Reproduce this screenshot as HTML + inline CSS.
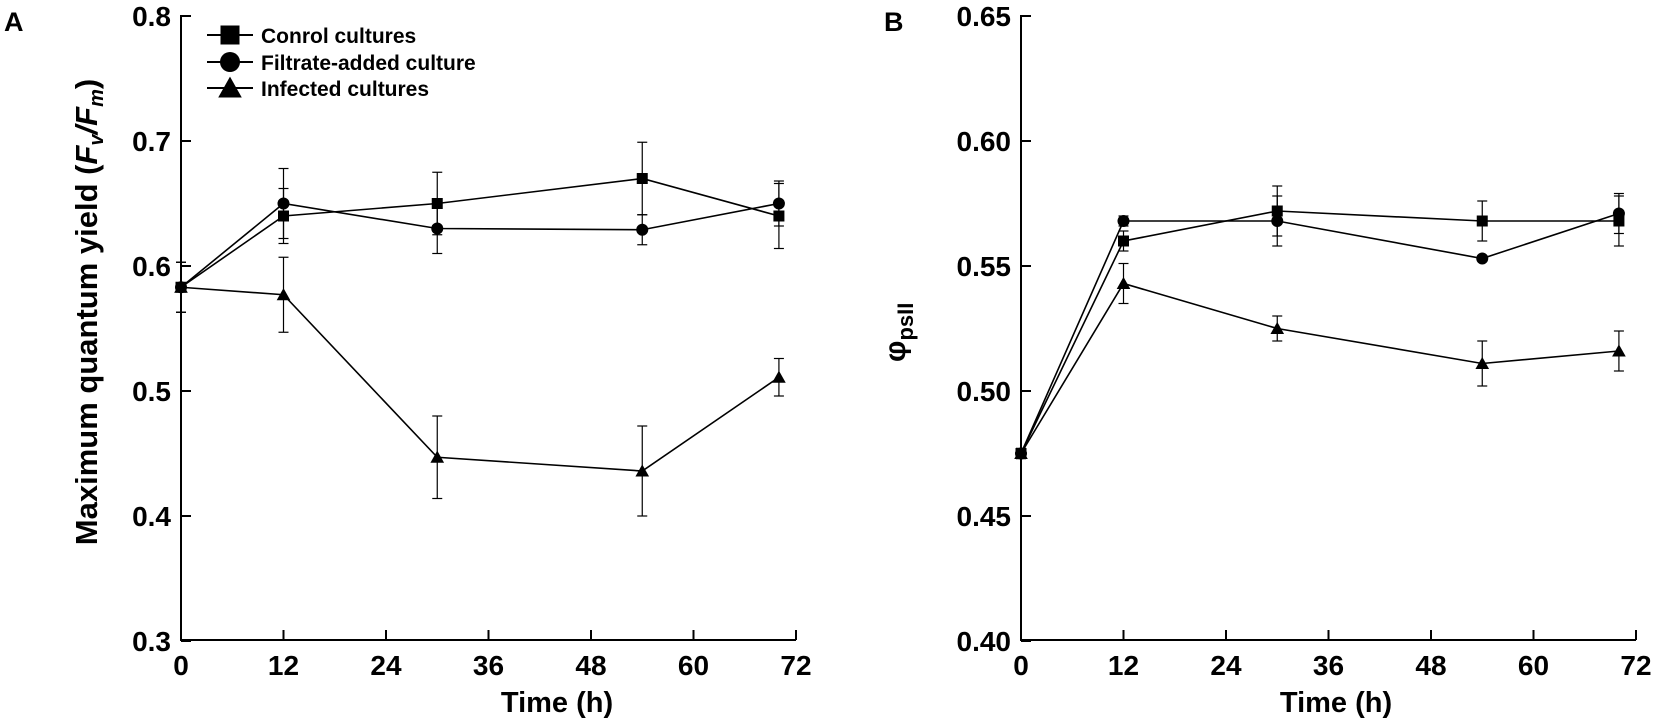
<!DOCTYPE html>
<html><head><meta charset="utf-8"><style>
html,body{margin:0;padding:0;background:#fff;}
svg{display:block;font-family:"Liberation Sans",Arial,sans-serif;font-weight:bold;}
</style></head><body>
<svg id="s" width="1655" height="722" viewBox="0 0 1655 722" xmlns="http://www.w3.org/2000/svg">
<text x="4" y="31" font-size="27">A</text>
<text x="884" y="31" font-size="27">B</text>
<text transform="translate(97,312) rotate(-90)" font-size="31" text-anchor="middle">Maximum quantum yield (<tspan font-style="italic">F</tspan><tspan font-style="italic" font-size="20" dy="6">v</tspan><tspan dy="-6" font-style="italic">/F</tspan><tspan font-style="italic" font-size="20" dy="6">m</tspan><tspan dy="-6">)</tspan></text>
<text transform="translate(905,362) rotate(-90)" font-size="30">φ<tspan font-size="22" dy="8">psII</tspan></text>
<text x="557" y="712" font-size="29" text-anchor="middle">Time (h)</text>
<text x="1336" y="712" font-size="29" text-anchor="middle">Time (h)</text>
<g id="g"></g>
</svg>
<script>
const g=document.getElementById('g');let h='';
function L(x1,y1,x2,y2,w){h+=`<line x1="${x1}" y1="${y1}" x2="${x2}" y2="${y2}" stroke="#000" stroke-width="${w||2}"/>`;}
function T(x,y,t,a,fs){h+=`<text x="${x}" y="${y}" font-size="${fs||28}" text-anchor="${a}">${t}</text>`;}
function M(type,x,y,s){
 if(type==0)h+=`<rect x="${x-s/2}" y="${y-s/2}" width="${s}" height="${s}" fill="#000"/>`;
 else if(type==1)h+=`<circle cx="${x}" cy="${y}" r="${s/2+0.5}" fill="#000"/>`;
 else h+=`<polygon points="${x},${y-s*0.6} ${x-s*0.62},${y+s*0.5} ${x+s*0.62},${y+s*0.5}" fill="#000"/>`;
}
const hrs=[0,12,30,54,70];
function panel(x0,ymin,ymax,step,dec,ticks,data){
 const Y=v=>16+(ymax-v)/(ymax-ymin)*625, X=t=>x0+t*102.5/12;
 L(x0,15,x0,641);L(x0-1,640,x0+615,640);
 for(let i=0;i<ticks;i++){const v=ymin+i*step,y=Y(v);L(x0,y,x0+10,y);T(x0-10,y+10,v.toFixed(dec),'end');}
 for(let t=0;t<=72;t+=12){const x=X(t);if(t>0)L(x,640,x,630);T(x,675,t,'middle');}
 data.forEach((d,k)=>{
  let pts=hrs.map((t,i)=>X(t)+','+Y(d.v[i])).join(' ');
  h+=`<polyline points="${pts}" fill="none" stroke="#000" stroke-width="1.6"/>`;
  hrs.forEach((t,i)=>{const e=d.e[i];if(e>0){const x=X(t);L(x,Y(d.v[i]-e),x,Y(d.v[i]+e),1.2);L(x-5,Y(d.v[i]+e),x+5,Y(d.v[i]+e),1.2);L(x-5,Y(d.v[i]-e),x+5,Y(d.v[i]-e),1.2);}});
  hrs.forEach((t,i)=>M(k,X(t),Y(d.v[i]),11));
 });
}
panel(181,0.3,0.8,0.1,1,6,[
 {v:[0.583,0.64,0.65,0.67,0.64],e:[0.02,0.022,0.025,0.029,0.026]},
 {v:[0.583,0.65,0.63,0.629,0.65],e:[0.02,0.028,0.02,0.012,0.018]},
 {v:[0.583,0.577,0.447,0.436,0.511],e:[0.02,0.03,0.033,0.036,0.015]}]);
panel(1021,0.40,0.65,0.05,2,6,[
 {v:[0.475,0.560,0.572,0.568,0.568],e:[0.002,0.004,0.01,0.008,0.01]},
 {v:[0.475,0.568,0.568,0.553,0.571],e:[0.002,0.002,0.01,0,0.008]},
 {v:[0.475,0.543,0.525,0.511,0.516],e:[0.002,0.008,0.005,0.009,0.008]}]);
const lg=['Conrol cultures','Filtrate-added culture','Infected cultures'];
[35,62,88].forEach((y,k)=>{L(207,y,253,y,2);M(k,230,y,19);T(261,y+8,lg[k],'start',21);});
g.innerHTML=h;
</script>
</body></html>
